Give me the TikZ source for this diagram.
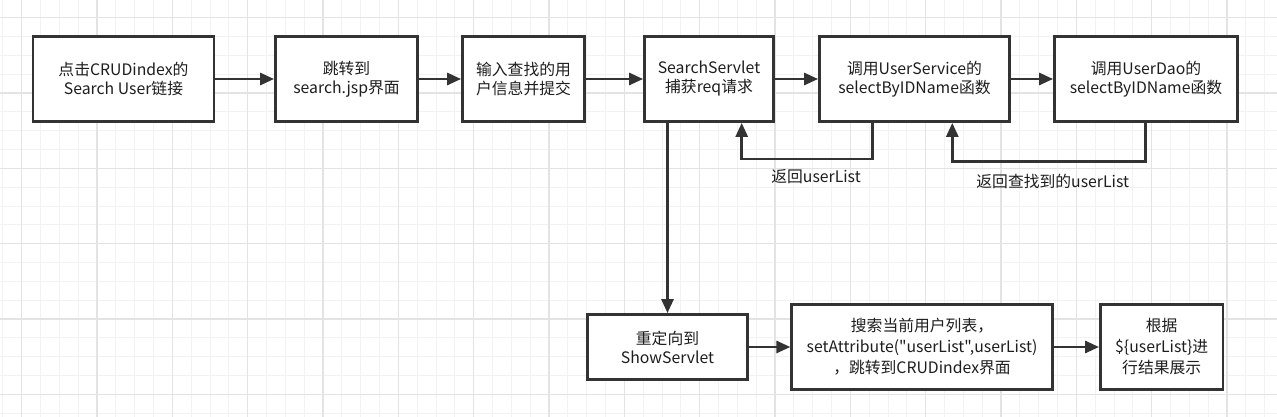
\documentclass[tikz,border=0pt]{standalone}
\usepackage{fontspec}
\newfontfamily\yfont{Noto Sans CJK SC}
\usetikzlibrary{arrows.meta,calc}
\definecolor{linec}{HTML}{333333}
\definecolor{textc}{HTML}{1E1E1E}
\definecolor{gminor}{HTML}{F2F2F2}
\definecolor{gmajor}{HTML}{E3E3E3}
\tikzset{
  box/.style={draw=linec, line width=2.8pt, fill=white, align=center, text=textc,
    font=\yfont\fontsize{15.8pt}{19pt}\selectfont, inner sep=0pt},
  conn/.style={draw=linec, line width=2.8pt, -{Triangle[length=14pt,width=12pt]}},
  lbl/.style={text=textc, font=\yfont\fontsize{15.8pt}{19pt}\selectfont, inner sep=0pt},
  gridminor/.style={draw=gminor, line width=1pt},
  gridmajor/.style={draw=gmajor, line width=1.2pt}
}
\begin{document}
\begin{tikzpicture}[x=1pt,y=-1pt]
\useasboundingbox (0,0) rectangle (1277,417);
\fill[white] (0,0) rectangle (1277,417);
% grid
\foreach \i in {0,...,67} {
  \pgfmathsetmacro\xx{2.87+18.833*\i}
  \draw[gridminor] (\xx,0) -- (\xx,417);
}
\foreach \j in {0,...,21} {
  \pgfmathsetmacro\yy{17.7+18.833*\j}
  \draw[gridminor] (0,\yy) -- (1277,\yy);
}
\foreach \i in {0,...,16} {
  \pgfmathsetmacro\xx{21.7+75.33*\i}
  \draw[gridmajor] (\xx,0) -- (\xx,417);
}
\foreach \j in {0,...,5} {
  \pgfmathsetmacro\yy{17.7+75.33*\j}
  \draw[gridmajor] (0,\yy) -- (1277,\yy);
}
% boxes
\node[box, minimum width=181pt, minimum height=85pt] (b1) at (123.5,79) {点击CRUDindex的\\Search User链接};
\node[box, minimum width=142pt, minimum height=85pt] (b2) at (346.5,79) {跳转到\\search.jsp界面};
\node[box, minimum width=122pt, minimum height=85pt] (b3) at (523.5,79) {输入查找的用\\户信息并提交};
\node[box, minimum width=129pt, minimum height=85pt] (b4) at (709,79) {SearchServlet\\捕获req请求};
\node[box, minimum width=190pt, minimum height=85pt] (b5) at (914.5,79) {调用UserService的\\selectByIDName函数};
\node[box, minimum width=183pt, minimum height=85pt] (b6) at (1146,79) {调用UserDao的\\selectByIDName函数};
\node[box, minimum width=160pt, minimum height=65pt] (b7) at (667.5,347) {重定向到\\ShowServlet};
\node[box, minimum width=260.5pt, minimum height=85pt, font=\yfont\fontsize{15.8pt}{21pt}\selectfont] (b8) at (922,347) {搜索当前用户列表，\\setAttribute("userList",userList)\\，跳转到CRUDindex界面};
\node[box, minimum width=122.5pt, minimum height=85pt, font=\yfont\fontsize{15.8pt}{21pt}\selectfont] (b9) at (1161.7,347) {根据\\\$\{userList\}进\\行结果展示};
% forward connectors
\draw[conn] (b1) -- (b2);
\draw[conn] (b2) -- (b3);
\draw[conn] (b3) -- (b4);
\draw[conn] (b4) -- (b5);
\draw[conn] (b5) -- (b6);
\draw[conn] (b7.north |- b4.south) -- (b7.north);
\draw[conn] (b7) -- (b8);
\draw[conn] (b8) -- (b9);
% return connectors
\coordinate (r1a) at (872.7,159);
\coordinate (r1b) at (741.7,159);
\coordinate (r2a) at (1145.7,161.3);
\coordinate (r2b) at (952.3,161.3);
\draw[conn] (r1a |- b5.south) -- (r1a) -- (r1b) -- (r1b |- b4.south);
\draw[conn] (r2a |- b6.south) -- (r2a) -- (r2b) -- (r2b |- b5.south);
\node[lbl] (l1) at (816,176.5) {返回userList};
\node[lbl] (l2) at (1052.7,181.7) {返回查找到的userList};
\end{tikzpicture}
\end{document}
